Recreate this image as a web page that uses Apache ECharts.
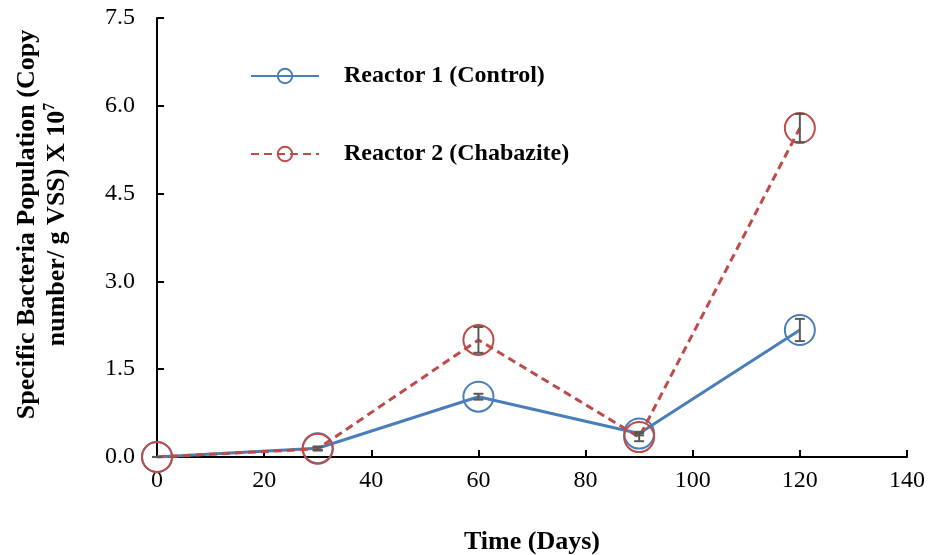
<!DOCTYPE html>
<html>
<head>
<meta charset="utf-8">
<script src="https://cdn.jsdelivr.net/npm/echarts@6/dist/echarts.min.js"></script>
<style>
html, body { margin: 0; padding: 0; background: #fff; }
#main { width: 932px; height: 555px; }
</style>
</head>
<body>
<div id="main"></div>
<script>
var days = [0, 30, 60, 90, 120];
var reactor1 = [0, 0.15, 1.03, 0.40, 2.17];
var reactor2 = [0, 0.14, 2.0, 0.34, 5.62];
var reactor1Err = [0, 0.03, 0.05, 0.03, 0.19];
var reactor2Err = [0, 0.03, 0.22, 0.07, 0.24];

var blue = '#4a7ebb';
var red = '#be4b48';
var font = '"Liberation Serif", "Times New Roman", serif';

function pairs(ys) {
    return days.map(function (d, i) { return [d, ys[i]]; });
}
function errData(ys, errs) {
    return days.map(function (d, i) { return [d, ys[i] - errs[i], ys[i] + errs[i]]; });
}

function renderErr(params, api) {
    var lo = api.coord([api.value(0), api.value(1)]);
    var hi = api.coord([api.value(0), api.value(2)]);
    var w = 5;
    var style = { stroke: '#595959', lineWidth: 2, fill: null };
    return {
        type: 'group',
        children: [
            { type: 'line', shape: { x1: lo[0], y1: lo[1], x2: hi[0], y2: hi[1] }, style: style },
            { type: 'line', shape: { x1: lo[0] - w, y1: lo[1], x2: lo[0] + w, y2: lo[1] }, style: style },
            { type: 'line', shape: { x1: hi[0] - w, y1: hi[1], x2: hi[0] + w, y2: hi[1] }, style: style }
        ]
    };
}

var chart = echarts.init(document.getElementById('main'));

var option = {
    animation: false,
    backgroundColor: '#fff',
    grid: { left: 157, right: 25, top: 18, bottom: 98, outerBoundsMode: 'none', containLabel: false },
    legend: {
        orient: 'vertical',
        left: 250,
        top: 64,
        padding: 0,
        itemWidth: 68,
        itemHeight: 18,
        itemGap: 54,
        data: ['Reactor 1 (Control)', 'Reactor 2 (Chabazite)'],
        textStyle: { fontFamily: font, fontWeight: 'bold', fontSize: 24, color: '#000', padding: [0, 0, 0, 20] }
    },
    xAxis: {
        type: 'value',
        min: 0, max: 140, interval: 20,
        name: 'Time (Days)',
        nameLocation: 'middle',
        nameGap: 72,
        nameTextStyle: { fontFamily: font, fontWeight: 'bold', fontSize: 26, color: '#000' },
        axisLine: { lineStyle: { color: '#000', width: 2 } },
        axisTick: { inside: true, length: 7, lineStyle: { color: '#000', width: 2 } },
        axisLabel: { fontFamily: font, fontSize: 24, color: '#000', margin: 12 },
        splitLine: { show: false }
    },
    yAxis: {
        type: 'value',
        min: 0, max: 7.5, interval: 1.5,
        name: 'Specific Bacteria Population (Copy\nnumber/ g VSS) X 10{sup|7}',
        nameLocation: 'middle',
        nameGap: 85,
        nameRotate: 90,
        nameTextStyle: {
            fontFamily: font, fontWeight: 'bold', fontSize: 26, color: '#000', lineHeight: 30,
            padding: [0, 0, 0, 26],
            rich: { sup: { fontFamily: font, fontWeight: 'bold', fontSize: 16, verticalAlign: 'top', lineHeight: 30, padding: [0, 0, 12, 0] } }
        },
        axisLine: { show: true, lineStyle: { color: '#000', width: 2 } },
        axisTick: { show: true, inside: true, length: 7, lineStyle: { color: '#000', width: 2 } },
        axisLabel: {
            fontFamily: font, fontSize: 24, color: '#000', margin: 22,
            formatter: function (v) { return v.toFixed(1); }
        },
        splitLine: { show: false }
    },
    series: [
        {
            name: 'Reactor 1 (Control)',
            type: 'line',
            data: pairs(reactor1),
            symbol: 'circle',
            symbolSize: 30,
            lineStyle: { color: blue, width: 3 },
            itemStyle: { color: 'rgba(255,255,255,0)', borderColor: blue, borderWidth: 2 },
            z: 2
        },
        {
            name: 'Reactor 2 (Chabazite)',
            type: 'line',
            data: pairs(reactor2),
            symbol: 'circle',
            symbolSize: 30,
            lineStyle: { color: red, width: 3, type: [8, 5] },
            itemStyle: { color: 'rgba(255,255,255,0)', borderColor: red, borderWidth: 2 },
            z: 3
        },
        {
            type: 'custom',
            data: errData(reactor1, reactor1Err),
            renderItem: renderErr,
            encode: { x: 0, y: [1, 2] },
            z: 5
        },
        {
            type: 'custom',
            data: errData(reactor2, reactor2Err),
            renderItem: renderErr,
            encode: { x: 0, y: [1, 2] },
            z: 5
        }
    ]
};

chart.setOption(option);
</script>
</body>
</html>
